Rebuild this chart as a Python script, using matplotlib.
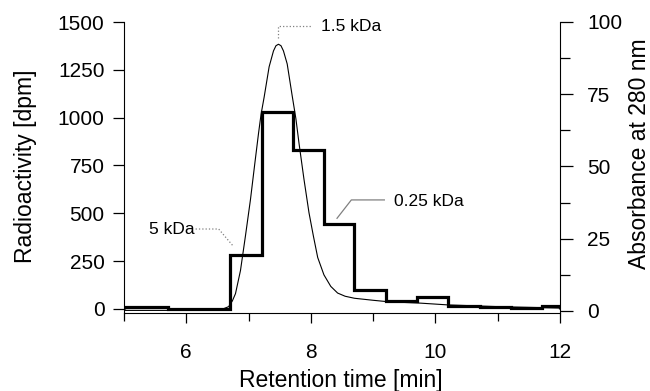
import matplotlib
matplotlib.use("Agg")
import matplotlib.pyplot as plt

plt.rcParams["font.family"] = ["Liberation Sans", "DejaVu Sans"]

# Radioactivity fractions (step histogram)
bin_edges = [5.0, 5.7, 6.2, 6.7, 7.21, 7.71, 8.21, 8.70, 9.21, 9.71, 10.20, 10.71, 11.22, 11.71, 12.0]
radioactivity = [8, 2, 2, 281, 1032, 833, 442, 99, 43, 65, 16, 9, 4, 16]

# Absorbance at 280 nm (thin curve)
abs_time = [5.0, 5.6, 6.0, 6.3, 6.49, 6.60, 6.68, 6.74, 6.79, 6.87, 6.95, 7.03, 7.10, 7.16,
            7.20, 7.25, 7.33, 7.40, 7.44, 7.48, 7.52, 7.56, 7.62, 7.70, 7.76, 7.81,
            7.89, 7.97, 8.04, 8.11, 8.21, 8.32, 8.43, 8.55, 8.70, 9.00, 9.24, 9.77,
            10.2, 11.0, 12.0]
absorbance = [0.2, 0.2, 0.2, 0.2, 0.3, 0.8, 1.5, 3.5, 6.0, 14.0, 26.0, 38.5, 51.0, 61.5,
              68.0, 74.0, 84.5, 90.0, 91.8, 92.3, 91.8, 90.0, 85.5, 74.5, 66.5, 58.0,
              45.5, 34.0, 26.0, 18.5, 12.5, 8.5, 6.2, 5.1, 4.4, 3.7, 3.2, 2.7,
              2.1, 1.5, 1.0]

fig = plt.figure(figsize=(6.5, 3.91), dpi=100)
ax = fig.add_axes([124 / 650, 1 - 313 / 391, 436 / 650, 291 / 391])
ax2 = ax.twinx()

ax.stairs(radioactivity, bin_edges, color="black", linewidth=2.3, zorder=3)
ax2.plot(abs_time, absorbance, color="black", linewidth=0.8)

ax.set_xlim(5, 12)
ax.set_ylim(-21, 1500)
ax2.set_ylim(-0.7, 100)

ax.set_xticks([6, 8, 10, 12])
ax.set_xticks([5, 7, 9, 11], minor=True)
ax.set_yticks([0, 250, 500, 750, 1000, 1250, 1500])
ax2.set_yticks([0, 25, 50, 75, 100])
ax2.set_yticks([12.5, 37.5, 62.5, 87.5], minor=True)

for a in (ax, ax2):
    a.spines["top"].set_visible(False)
    a.tick_params(labelsize=15, width=0.9, direction="out")
ax.spines["right"].set_visible(False)
ax2.spines["left"].set_visible(False)
ax2.spines["bottom"].set_visible(False)
ax.tick_params(axis="x", which="major", length=7.5, pad=14)
ax.tick_params(axis="x", which="minor", length=5.5, width=0.9)
ax.tick_params(axis="y", length=8, pad=6)
ax2.tick_params(axis="y", which="major", length=9.5, pad=10)
ax2.tick_params(axis="y", which="minor", length=7, width=0.9)

fig.text(341 / 650, 1 - 381 / 391, "Retention time [min]", fontsize=16.5,
         ha="center", va="center")
fig.text(26 / 650, 1 - 166 / 391, "Radioactivity [dpm]", fontsize=16.5,
         rotation=90, ha="center", va="center")
fig.text(639 / 650, 1 - 154 / 391, "Absorbance at 280 nm", fontsize=16.5,
         rotation=90, ha="center", va="center")

# peak annotations
gray = "#808080"
ax.plot([7.48, 7.48, 8.0], [1415, 1479, 1479], color=gray, linestyle=":", linewidth=0.9)
ax.text(8.16, 1477, "1.5 kDa", fontsize=12.5, ha="left", va="center")
ax.plot([6.15, 6.52, 6.76], [418, 418, 326], color=gray, linestyle=":", linewidth=0.9)
ax.text(6.13, 418, "5 kDa", fontsize=12.5, ha="right", va="center")
ax.plot([9.18, 8.65, 8.42], [570, 570, 474], color=gray, linewidth=0.9)
ax.text(9.34, 562, "0.25 kDa", fontsize=12.5, ha="left", va="center")

fig.savefig("out.png", dpi=100)
